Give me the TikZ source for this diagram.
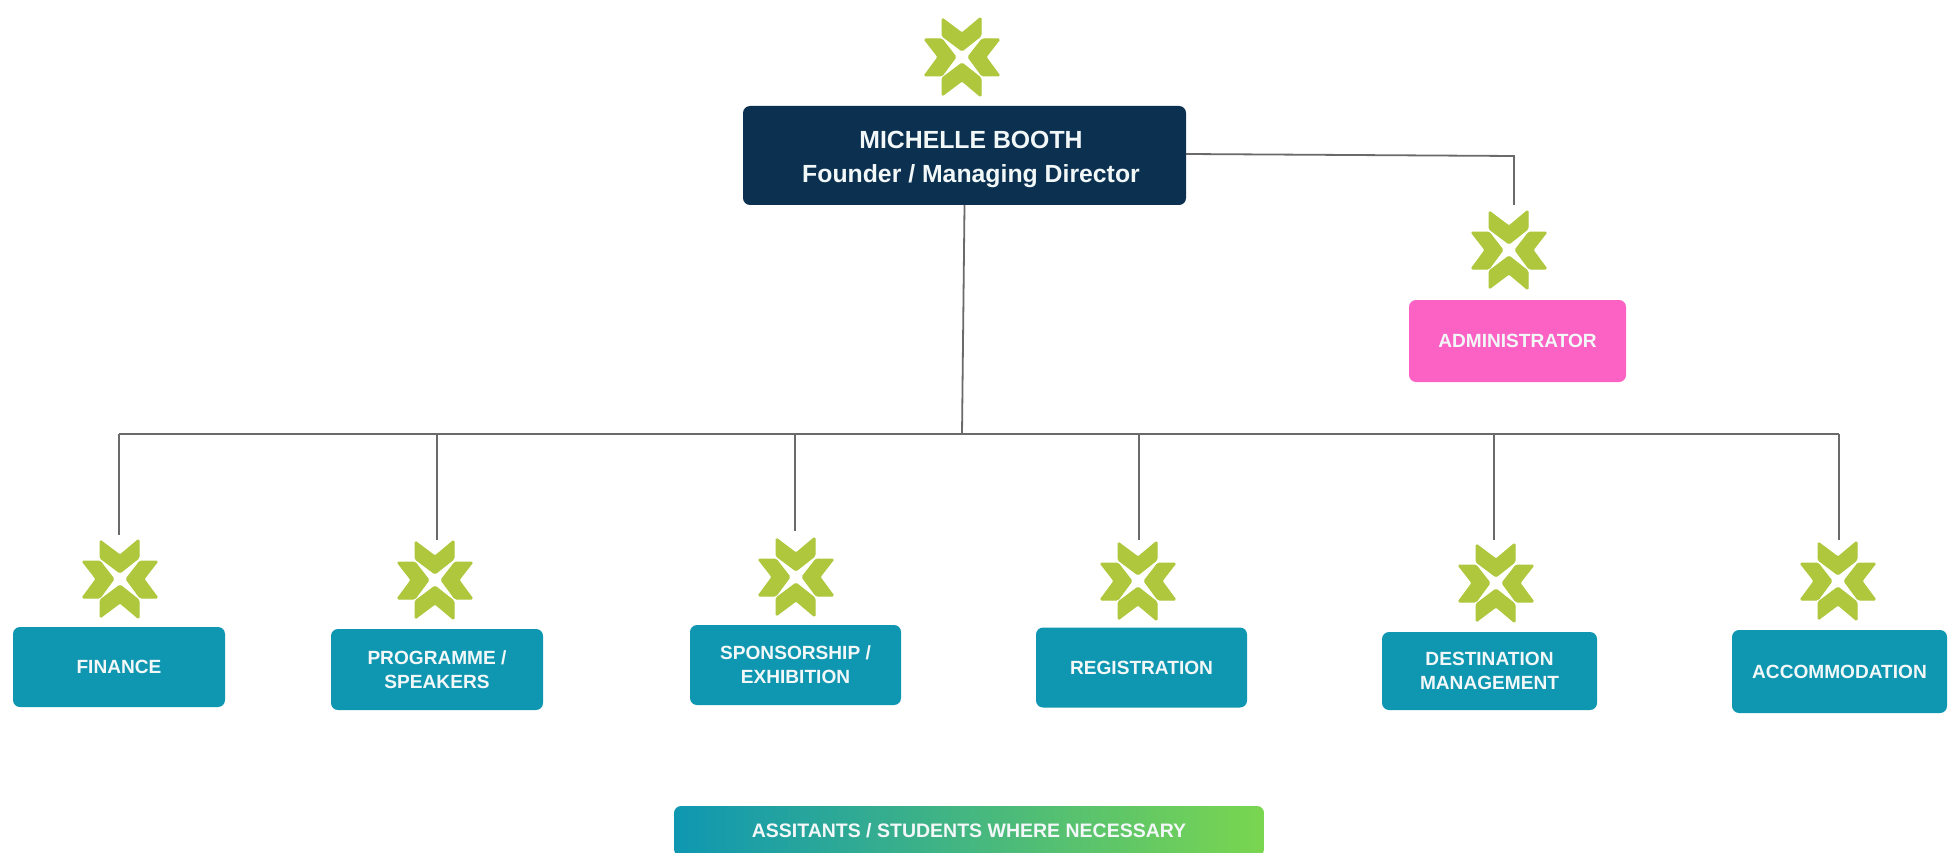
\documentclass[tikz,border=0pt]{standalone}
\usepackage{fontspec}
\setmainfont{Liberation Sans}
\definecolor{navy}{HTML}{0B3050}
\definecolor{teal}{HTML}{0F97B2}
\definecolor{pinkbox}{HTML}{FB62C4}
\definecolor{leaf}{HTML}{AEC73C}
\definecolor{wire}{HTML}{6A6A6A}
\definecolor{gradend}{HTML}{7AD64F}
\definecolor{ink}{HTML}{F2F7F8}
\tikzset{
  x=1pt,y=-1pt,
  box/.style={draw=none,rounded corners=7pt,inner sep=0pt,align=center,text=ink,font=\bfseries\fontsize{19.1}{24}\selectfont},
  teambox/.style={box,fill=teal},
  wireline/.style={draw=wire,line width=1.8pt},
  chevron/.style={fill=leaf,draw=leaf,line width=1pt,line join=round,rounded corners=1.5pt},
  pics/mark/.style={code={
    \path[chevron] (-20,-39)--(0,-24)--(19,-40)--(19,-21)--(0,-6)--(-20,-21)--cycle;
    \path[chevron] (-20,39)--(0,24)--(19,40)--(19,21)--(0,6)--(-20,21)--cycle;
    \path[chevron] (38,-18)--(24,0)--(38,19)--(20,19)--(6,0)--(20,-18)--cycle;
    \path[chevron] (-38,-18)--(-24,0)--(-38,19)--(-20,19)--(-6,0)--(-20,-18)--cycle;
  }}
}
\begin{document}
\begin{tikzpicture}
\useasboundingbox (0,0) rectangle (1959,853);
\clip (0,0) rectangle (1959,853);
% boxes
\node[box,fill=navy,minimum width=443pt,minimum height=99pt] (top) at (964.5,155.5) {};
\node[align=center,inner sep=0pt,text=ink,font=\bfseries\fontsize{24.8}{34}\selectfont] (toplabel) at (971,159) {MICHELLE BOOTH\\Founder / Managing Director};
\node[box,fill=pinkbox,minimum width=217pt,minimum height=82pt] (admin) at (1517.5,341) {ADMINISTRATOR};
\node[teambox,minimum width=212pt,minimum height=80pt] (finance) at (119,667) {FINANCE};
\node[teambox,minimum width=212pt,minimum height=81pt] (programme) at (437,669.5) {PROGRAMME /\\SPEAKERS};
\node[teambox,minimum width=211pt,minimum height=80pt] (sponsorship) at (795.5,665) {SPONSORSHIP /\\EXHIBITION};
\node[teambox,minimum width=211pt,minimum height=80pt] (registration) at (1141.5,667.5) {REGISTRATION};
\node[teambox,minimum width=215pt,minimum height=78pt] (destination) at (1489.5,671) {DESTINATION\\MANAGEMENT};
\node[teambox,minimum width=215pt,minimum height=83pt] (accommodation) at (1839.5,671.5) {ACCOMMODATION};
\node[box,left color=teal,right color=gradend,minimum width=590pt,minimum height=50pt,font=\bfseries\fontsize{19.5}{24}\selectfont] (assist) at (969,831) {ASSITANTS / STUDENTS WHERE NECESSARY};
% marks
\pic at (962,57) {mark};
\pic at (1509,250) {mark};
\pic at (120,579) {mark};
\pic at (435,580) {mark};
\pic at (796,577) {mark};
\pic at (1138,581) {mark};
\pic at (1496,583) {mark};
\pic at (1838,581) {mark};
% connector ends
\coordinate (busL) at (119,434);
\coordinate (busR) at (1839,434);
\coordinate (busM) at (962,434);
\coordinate (adminCorner) at (1514,156);
\coordinate (adminEnd) at (1514,205);
\coordinate (topOut) at (964.5,205);
\coordinate (topSide) at (1186,154);
\foreach \nm/\px/\py in {a/119/535,b/437/540,c/795/531,d/1139/540,e/1494/540,f/1839/540}{
  \coordinate (end\nm) at (\px,\py);
  \coordinate (bus\nm) at (\px,434);
  \draw[wireline] (bus\nm) -- (end\nm);
}
\draw[wireline] (busL) -- (busR);
\draw[wireline] (topOut) -- (busM);
\draw[wireline] (topSide) -- (adminCorner) -- (adminEnd);
\end{tikzpicture}
\end{document}
